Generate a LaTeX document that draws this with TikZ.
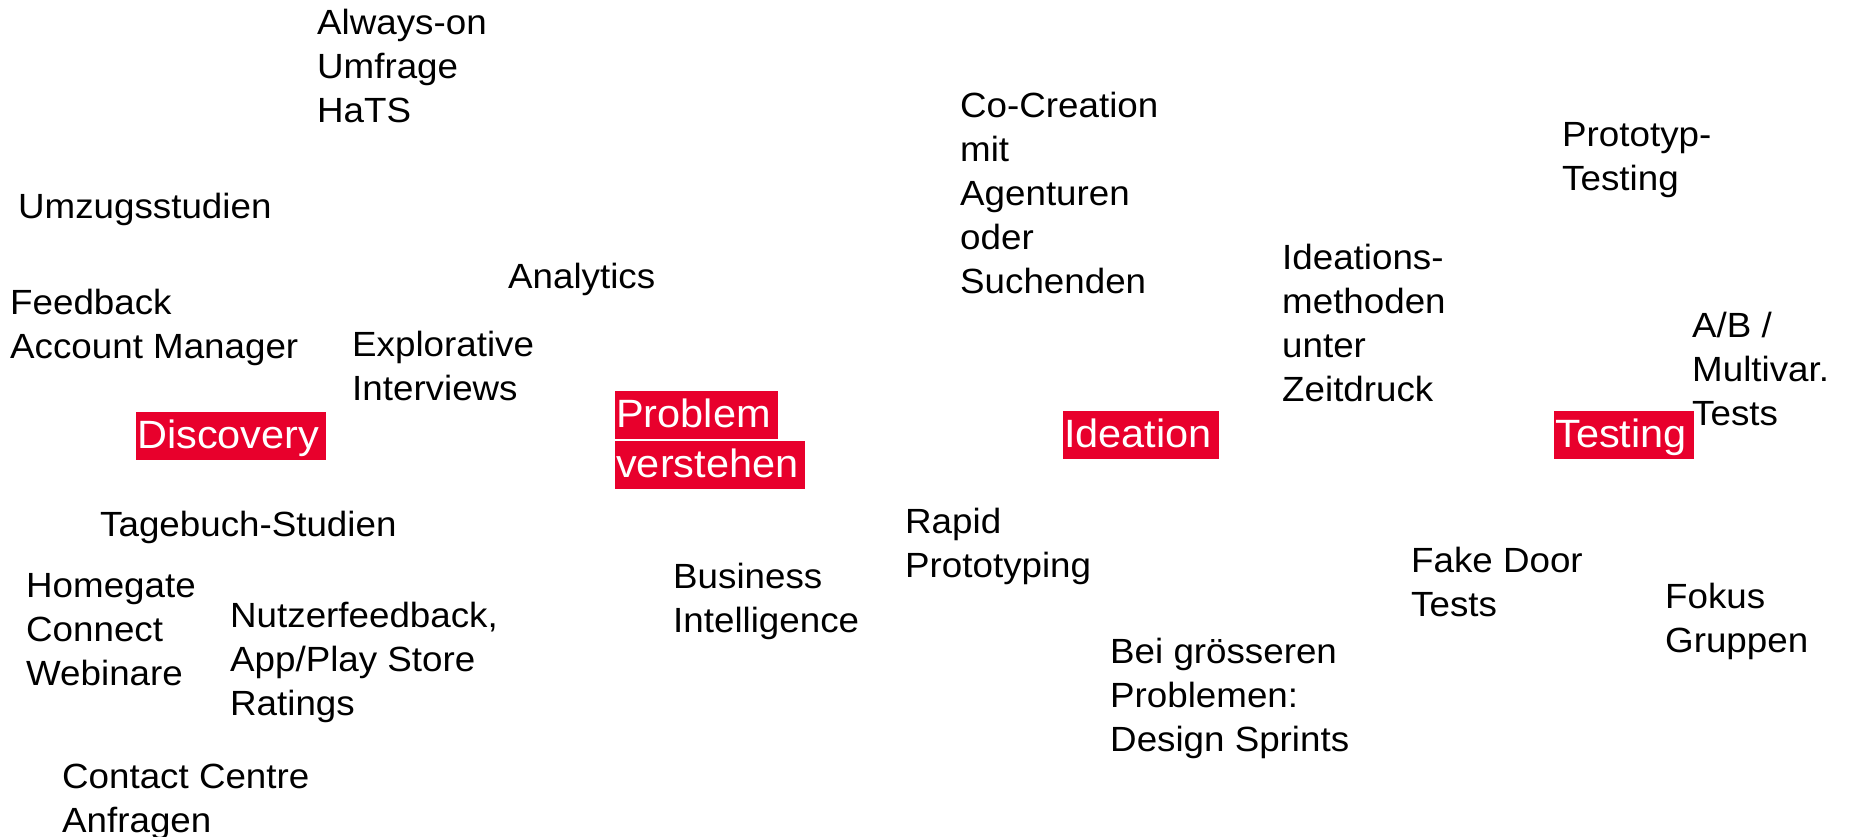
\documentclass[tikz,border=0pt]{standalone}
\usepackage{fontspec}
\setmainfont{Liberation Sans}[FakeStretch=1.05]
\definecolor{brandred}{HTML}{E8002C}
\newcommand\mlines[1]{\vtop{\baselineskip=44pt\lineskiplimit=-60pt\lineskip=0pt\halign{##\hfil\cr#1\crcr}}}
\tikzset{
  lbl/.style={anchor=base west, inner sep=0pt, font=\fontsize{35}{44}\selectfont},
  phase/.style={anchor=base west, inner sep=0pt, fill=brandred, text=white,
    font=\fontsize{39.5}{48}\selectfont, text height=36pt, text depth=12pt,
    execute at begin node={\kern1pt}, execute at end node={\kern7pt}}
}
\begin{document}
\begin{tikzpicture}[x=1pt,y=-1pt]
\useasboundingbox[fill=white] (0,0) rectangle (1851,836);
% phases
\node[phase] (discovery) at (136,448) {Discovery};
\node[phase] (problem) at (615,427) {Problem\ };
\node[phase] (verstehen) at (615,477) {verstehen};
\node[phase] (ideation) at (1063,447) {Ideation};
\node[phase] (testing) at (1554,447) {Testing};
% methods
\node[lbl] (alwayson) at (317,34) {\mlines{Always-on\cr Umfrage\cr HaTS}};
\node[lbl] (umzug) at (18,218) {Umzugsstudien};
\node[lbl] (analytics) at (508,288) {Analytics};
\node[lbl] (feedback) at (10,314) {\mlines{Feedback\cr Account Manager}};
\node[lbl] (explorative) at (352,356) {\mlines{Explorative\cr Interviews}};
\node[lbl] (tagebuch) at (100,536) {Tagebuch-Studien};
\node[lbl] (homegate) at (26,597) {\mlines{Homegate\cr Connect\cr Webinare}};
\node[lbl] (nutzer) at (230,627) {\mlines{Nutzerfeedback,\cr App/Play Store\cr Ratings}};
\node[lbl] (contact) at (62,788) {\mlines{Contact Centre\cr Anfragen}};
\node[lbl] (cocreation) at (960,117) {\mlines{Co-Creation\cr mit\cr Agenturen\cr oder\cr Suchenden}};
\node[lbl] (rapid) at (905,533) {\mlines{Rapid\cr Prototyping}};
\node[lbl] (bi) at (673,588) {\mlines{Business\cr Intelligence}};
\node[lbl] (sprints) at (1110,663) {\mlines{Bei grösseren\cr Problemen:\cr Design Sprints}};
\node[lbl] (prototyp) at (1562,146) {\mlines{Prototyp-\cr Testing}};
\node[lbl] (ideations) at (1282,269) {\mlines{Ideations-\cr methoden\cr unter\cr Zeitdruck}};
\node[lbl] (ab) at (1692,337) {\mlines{A/B /\cr Multivar.\cr Tests}};
\node[lbl] (fakedoor) at (1411,572) {\mlines{Fake Door\cr Tests}};
\node[lbl] (fokus) at (1665,608) {\mlines{Fokus\cr Gruppen}};
\end{tikzpicture}
\end{document}
